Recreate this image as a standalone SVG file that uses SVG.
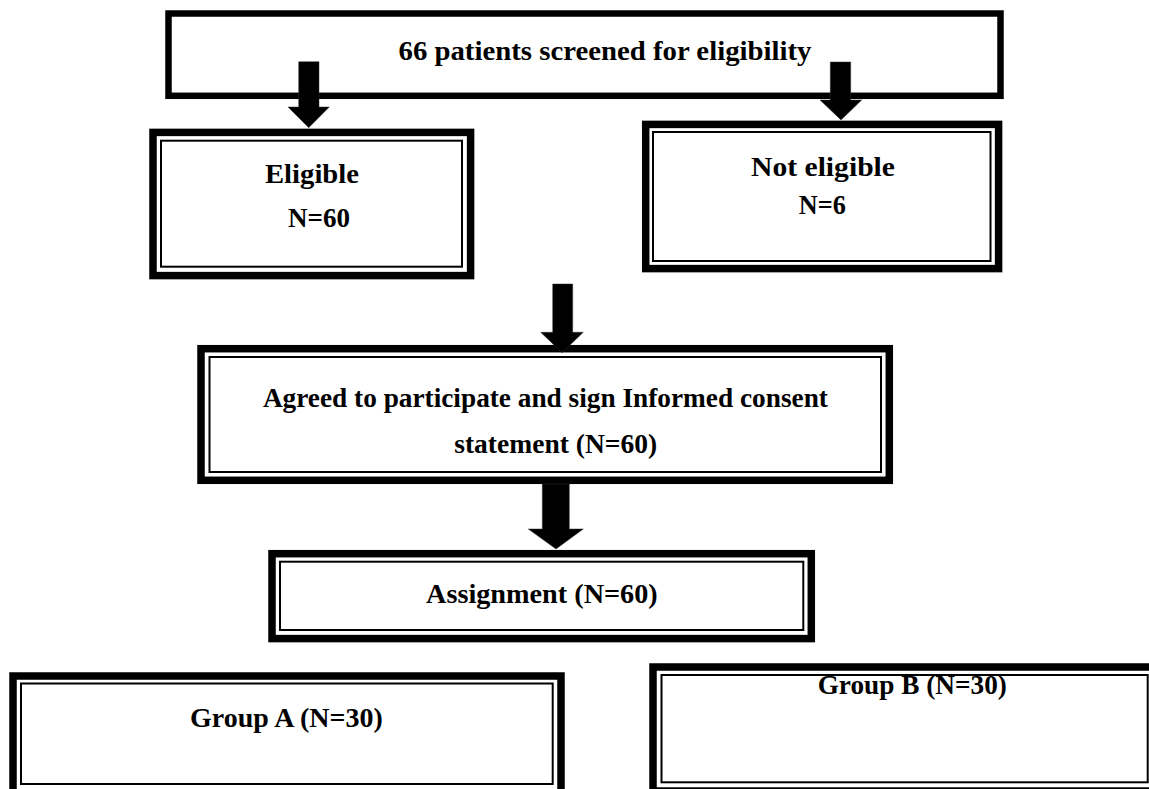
<svg xmlns="http://www.w3.org/2000/svg" width="1149" height="789" viewBox="0 0 1149 789">
<style>
.single{fill:#fff;stroke:#000;stroke-width:6.5}
.thick{fill:#fff;stroke:#000;stroke-width:7.5}
.thin{fill:none;stroke:#000;stroke-width:2}
.t{font-family:"Liberation Serif","Times New Roman",serif;font-weight:bold;font-size:28px;fill:#000;text-anchor:middle}
.arrow{fill:#000;stroke:#333;stroke-width:0.5}
</style>
<rect width="1149" height="789" fill="#fff"/>
<g id="screened">
<rect class="single" x="168.5" y="13.5" width="832" height="82.3"/>
<text class="t" x="605" y="60" textLength="413" lengthAdjust="spacingAndGlyphs">66 patients screened for eligibility</text>
</g>
<g id="eligible">
<rect class="thick" x="153" y="132.4" width="317.6" height="143.2"/>
<rect class="thin" x="161" y="140.7" width="301" height="126"/>
<text class="t" x="312" y="183" textLength="94" lengthAdjust="spacingAndGlyphs">Eligible</text>
<text class="t" x="319" y="226.7" textLength="62" lengthAdjust="spacingAndGlyphs">N=60</text>
</g>
<g id="not-eligible">
<rect class="thick" x="645.7" y="124.4" width="352.9" height="144.2"/>
<rect class="thin" x="653" y="132" width="337.5" height="129"/>
<text class="t" x="823" y="176" textLength="144" lengthAdjust="spacingAndGlyphs">Not eligible</text>
<text class="t" x="822.3" y="214.3" textLength="47" lengthAdjust="spacingAndGlyphs">N=6</text>
</g>
<g id="agreed">
<rect class="thick" x="201" y="348.7" width="688.3" height="131.6"/>
<rect class="thin" x="209.5" y="357" width="671.5" height="115"/>
<text class="t" x="545.4" y="407" textLength="565" lengthAdjust="spacingAndGlyphs">Agreed to participate and sign Informed consent</text>
<text class="t" x="555.7" y="453.3" textLength="203" lengthAdjust="spacingAndGlyphs">statement (N=60)</text>
</g>
<g id="assignment">
<rect class="thick" x="272" y="553.7" width="539.3" height="84.9"/>
<rect class="thin" x="280" y="561.7" width="523.3" height="68.3"/>
<text class="t" x="541.9" y="602.7" textLength="231.7" lengthAdjust="spacingAndGlyphs">Assignment (N=60)</text>
</g>
<g id="group-a">
<rect class="thick" x="13" y="676" width="548" height="117"/>
<rect class="thin" x="21" y="683.5" width="531.7" height="100.5"/>
<text class="t" x="286.4" y="727" textLength="192.7" lengthAdjust="spacingAndGlyphs">Group A (N=30)</text>
</g>
<g id="group-b">
<rect class="thick" x="653" y="667" width="503" height="124"/>
<rect class="thin" x="661.5" y="675" width="486.2" height="107.3"/>
<text class="t" x="912.3" y="694" font-size="26" textLength="189.3" lengthAdjust="spacingAndGlyphs">Group B (N=30)</text>
</g>
<g id="connectors">
<polygon class="arrow" points="298.7,61.7 319,61.7 319,107 329.3,107 308.7,127.7 288,107 298.7,107"/>
<polygon class="arrow" points="830.3,62 850.7,62 850.7,100 861.7,100 841,120 820,100 830.3,100"/>
<polygon class="arrow" points="552.7,284 572.7,284 572.7,332.3 583.3,332.3 562,352.7 540.7,332.3 552.7,332.3"/>
<polygon class="arrow" points="542.3,484 569.3,484 569.3,529 583.3,529 556,549 528.3,529 542.3,529"/>
</g>
</svg>
